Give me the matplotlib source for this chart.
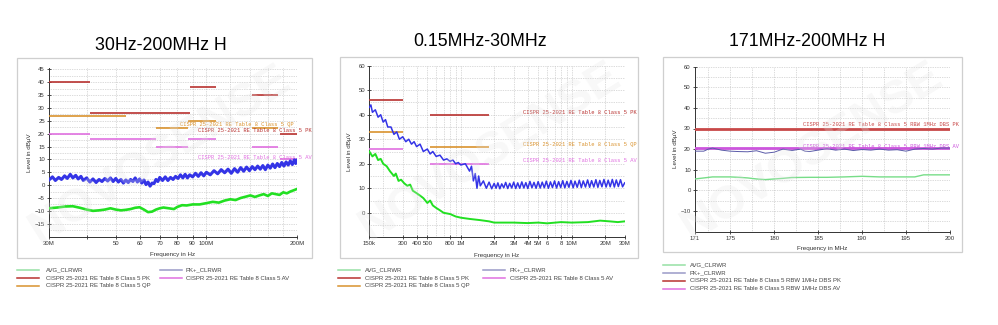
import matplotlib
matplotlib.use("Agg")
import matplotlib.pyplot as plt
from matplotlib.lines import Line2D
from matplotlib.patches import Rectangle

plt.rcParams['font.family'] = ['Liberation Sans', 'DejaVu Sans']

W, H = 998, 325

# ---- panel 1: 30 MHz - 200 MHz (MHz) ----
F1_PK = [30, 30.8, 31.5, 32.3, 33, 33.8, 34.5, 35.3, 36, 36.8, 37.5, 38.3, 39, 40, 41, 42, 43, 44,
         45, 46, 47, 48, 49, 50, 51, 52, 53, 54, 55, 56, 57, 58, 59, 60, 61, 62, 63, 64, 65, 66,
         67, 68, 69, 70, 71.5, 73, 74.5, 76, 77.5, 79, 80.5, 82, 83.5, 85, 86.5, 88, 90, 92, 94,
         96, 98, 100, 103, 106, 109, 112, 115, 118, 121, 124, 127, 130, 133, 136, 139, 142, 145,
         148, 151, 154, 157, 160, 163, 166, 169, 172, 175, 178, 181, 184, 187, 190, 193, 196, 198, 200]
L1_PK = [2.0, 3.2, 1.8, 3.0, 2.2, 3.6, 2.6, 4.2, 2.8, 3.8, 2.4, 3.4, 1.8, 2.8, 1.2, 2.4, 1.0, 2.2,
         1.4, 2.6, 1.6, 2.8, 1.4, 2.6, 1.2, 2.2, 0.8, 2.0, 1.0, 2.2, 1.4, 2.8, 1.2, 2.4, 0.8, 2.0,
         0.2, 1.2, -0.4, 0.8, 0.6, 2.2, 1.4, 3.0, 1.8, 3.2, 1.8, 3.0, 2.2, 3.4, 2.6, 4.0, 2.8, 4.2,
         2.8, 4.0, 3.2, 4.6, 3.4, 4.8, 3.6, 5.0, 4.0, 5.6, 4.4, 6.0, 4.8, 6.2, 4.6, 6.4, 5.0, 6.8,
         5.4, 7.0, 5.6, 7.2, 6.0, 7.4, 6.2, 7.6, 6.0, 7.8, 6.6, 8.2, 6.8, 8.4, 7.2, 8.8, 7.4, 9.0,
         7.8, 9.4, 8.0, 9.8, 8.4, 9.6]
F1_AV = [30, 32, 34, 36, 38, 40, 42, 44, 46, 48, 50, 52, 54, 56, 58, 60, 62, 64, 66, 68, 70, 72,
         75, 78, 80, 83, 86, 90, 95, 100, 105, 110, 115, 120, 125, 130, 135, 140, 145, 150, 155,
         160, 165, 170, 175, 180, 185, 190, 195, 200]
L1_AV = [-9.0, -8.7, -8.3, -8.2, -8.8, -9.5, -10.0, -9.8, -9.5, -9.0, -9.5, -9.8, -9.6, -9.3, -8.8,
         -8.6, -9.5, -10.5, -10.3, -9.5, -9.0, -8.7, -9.0, -9.3, -8.5, -7.8, -7.9, -7.5, -7.5, -7.0,
         -6.5, -6.8, -6.0, -5.5, -5.8, -5.0, -4.5, -4.0, -4.6, -4.0, -3.5, -4.2, -3.2, -3.5, -3.8,
         -2.8, -3.2, -2.5, -2.0, -1.5]
LIM1_PK_START = [30, 41, 88, 142, 176]
LIM1_PK_STOP = [41, 88, 108, 173, 200]
LIM1_PK_LEVEL = [40, 28, 38, 35, 20]
LIM1_QP_START = [30, 68, 87, 142]
LIM1_QP_STOP = [54, 87, 108, 173]
LIM1_QP_LEVEL = [27, 22, 25, 22]
LIM1_AV_START = [30, 41, 68, 87, 142, 176]
LIM1_AV_STOP = [41, 68, 87, 108, 173, 200]
LIM1_AV_LEVEL = [20, 18, 15, 18, 15, 10]
X1_TICKS = [30, 40, 50, 60, 70, 80, 90, 100, 200]
X1_LABELS = ['30M', '', '50', '60', '70', '80', '90', '100M', '200M']
X1_GRID = [40, 50, 60, 70, 80, 90, 100, 120, 140, 160, 180, 200]

# ---- panel 2: 150 kHz - 30 MHz (kHz) ----
F2_PK = [150, 155, 160, 170, 180, 190, 200, 210, 220, 235, 250, 265, 280, 300, 320, 340, 360, 380,
         400, 430, 460, 500, 530, 560, 600, 650, 700, 750, 800, 850, 900, 950, 1000, 1100, 1200,
         1250, 1300, 1350, 1400, 1450, 1500, 1600, 1700, 1800,
         1900, 2000, 2080, 2160, 2250, 2340, 2440, 2540, 2650, 2760,
         2880, 3000, 3130, 3260, 3400, 3550, 3700, 3860, 4020, 4200,
         4380, 4570, 4770, 4980, 5200, 5420, 5660, 5900, 6160, 6430,
         6700, 7000, 7300, 7620, 7950, 8300, 8660, 9040, 9430, 9840,
         10300, 10700, 11200, 11700, 12200, 12700, 13300, 13900, 14500, 15100,
         15800, 16500, 17200, 17900, 18700, 19500, 20400, 21300, 22200, 23200,
         24200, 25200, 26300, 27500, 28700, 30000]
L2_PK = [43, 44, 41, 42, 39, 40, 37, 38, 35, 35, 32, 33, 30, 31, 29, 30, 28, 29,
         27, 28, 25, 26, 24, 25, 23, 23.5, 21.5, 22, 21, 21.5, 20, 20.5, 19.5, 20, 17,
         19, 13, 16, 10, 15, 11, 13, 10, 12.5,
         9.8, 12.0, 10.0, 12.2, 9.8, 11.8, 10.2, 12.4, 9.9, 12.0,
         10.1, 12.5, 9.9, 12.2, 10.0, 12.6, 10.1, 12.3, 9.9, 12.8,
         10.2, 12.4, 10.0, 12.7, 10.1, 12.5, 10.2, 12.9, 10.0, 12.6,
         10.3, 13.0, 10.1, 12.7, 10.3, 13.1, 10.2, 12.8, 10.4, 13.2,
         10.2, 12.9, 10.4, 13.3, 10.3, 13.0, 10.5, 13.4, 10.4, 13.1,
         10.5, 13.5, 10.4, 13.2, 10.6, 13.6, 10.5, 13.3, 10.6, 13.6,
         10.5, 13.4, 10.7, 13.5, 10.6, 12.2]
F2_AV = [150, 160, 170, 180, 190, 200, 215, 230, 250, 260, 275, 290, 310, 330, 350, 370, 400, 430,
         460, 500, 530, 560, 600, 650, 700, 800, 900, 1000, 1200, 1500, 1800, 2000, 2500, 3000,
         4000, 5000, 6000, 8000, 10000, 14000, 18000, 22000, 26000, 30000]
L2_AV = [25, 23, 24, 21.5, 22, 20, 19, 17, 15, 16, 13, 13.5, 12, 11, 11.5, 9, 8, 7,
         6, 4, 5, 3, 2, 1, 0, -0.5, -1.5, -2, -2.5, -3, -3.5, -4, -4, -4,
         -4.2, -4, -4.3, -3.8, -4, -3.8, -3.2, -3.5, -3.8, -3.5]
LIM2_START = [150, 530]
LIM2_STOP = [300, 1800]
LIM2_PK = [46, 40]
LIM2_QP = [33, 27]
LIM2_AV = [26, 20]
X2_TICKS = [150, 300, 400, 500, 800, 1000, 2000, 3000, 4000, 5000, 6000, 8000, 10000, 20000, 30000]
X2_LABELS = ['150k', '300', '400', '500', '800', '1M', '2M', '3M', '4M', '5M', '6', '8', '10M',
             '20M', '30M']
X2_GRID = [200, 300, 400, 500, 600, 700, 800, 900, 1000, 2000, 3000, 4000, 5000, 6000, 7000,
           8000, 9000, 10000, 20000, 30000]

# ---- panel 3: 171 MHz - 200 MHz (MHz) ----
F3_PK = [171, 172, 172.5, 173, 174, 175, 176, 177, 178, 179, 180, 181, 182, 183, 183.5, 184, 185,
         186, 187, 188, 189, 190, 191, 192, 193, 194, 195, 196, 197, 198, 199, 200]
L3_PK = [19, 19, 20, 20.5, 19.5, 19, 18.8, 18.7, 19.2, 18, 18.5, 20, 19.3, 20, 19, 18.8, 19.5,
         20.2, 19.5, 20, 19.3, 19.8, 19.5, 20, 19.5, 19.7, 19, 20, 20.3, 20, 20.5, 20.5]
F3_AV = [171, 172, 173, 175, 176, 177, 178, 179, 180, 181, 182, 184, 186, 188, 190, 192, 194,
         196, 197, 198, 200]
L3_AV = [5.5, 6, 6.5, 6.5, 6.3, 6, 5.5, 5.2, 5.5, 5.8, 6.2, 6.3, 6.3, 6.5, 6.8, 6.5, 6.5, 6.5,
         7.5, 7.5, 7.5]
LIM3_PK = 30
LIM3_AV = 20.3
X3_TICKS = [171, 175, 180, 185, 190, 195, 200]
X3_GRID = [172.5, 175, 177.5, 180, 182.5, 185, 187.5, 190, 192.5, 195, 197.5, 200]

C_RED, C_ORG, C_MAG = '#b8312f', '#d9922e', '#e070e0'
C_BLUE, C_GREEN = '#3434e6', '#22e022'
LEG_GREEN, LEG_PURPLE = '#96e0a4', '#9a9ac8'

LBL_PK = 'CISPR 25-2021 RE Table 8 Class 5 PK'
LBL_QP = 'CISPR 25-2021 RE Table 8 Class 5 QP'
LBL_AV = 'CISPR 25-2021 RE Table 8 Class 5 AV'
LBL3_PK = 'CISPR 25-2021 RE Table 8 Class 5 RBW 1MHz DBS PK'
LBL3_AV = 'CISPR 25-2021 RE Table 8 Class 5 RBW 1MHz DBS AV'

fig = plt.figure(figsize=(W / 100, H / 100), dpi=100)


def ax_px(l, t, r, b):
    return fig.add_axes([l / W, 1 - b / H, (r - l) / W, (b - t) / H])


def frame_px(l, t, r, b):
    fig.add_artist(Rectangle((l / W, 1 - b / H), (r - l) / W, (b - t) / H,
                             transform=fig.transFigure, fill=False, ec='#cfcfcf', lw=0.9))


def style(ax, xgrid, ygrid, xlabel):
    for s in ['top', 'right']:
        ax.spines[s].set_visible(False)
    for s in ['left', 'bottom']:
        ax.spines[s].set_color('#333333')
        ax.spines[s].set_linewidth(0.7)
    for x in xgrid:
        ax.axvline(x, color='#b8b8b8', lw=0.5, ls=(0, (1, 1.5)), zorder=0)
    for y in ygrid:
        ax.axhline(y, color='#b8b8b8', lw=0.5, ls=(0, (1, 1.5)), zorder=0)
    ax.tick_params(direction='inout', length=3, width=0.6, labelsize=4.3,
                   colors='#333333', pad=1.5)
    ax.tick_params(which='minor', length=0)
    ax.set_ylabel('Level in dBµV', fontsize=4.5, color='#333333')
    ax.yaxis.set_label_coords(-0.068, 0.5)
    ax.set_xlabel(xlabel, fontsize=4.5, color='#333333')
    ax.xaxis.set_label_coords(0.5, -0.09)


def legend_px(x_line, x_text, y, color, text):
    fig.add_artist(Line2D([x_line / W, (x_line + 22) / W], [1 - y / H, 1 - y / H],
                          color=color, lw=1.1, transform=fig.transFigure))
    fig.text(x_text / W, 1 - y / H, text, fontsize=4.3, color='#444444', va='center')


def watermark(cx, cy):
    fig.text(cx / W, 1 - cy / H, 'NOVOSENSE', fontsize=34, fontweight='bold', color='#e4e4e4',
             alpha=0.26, rotation=32, ha='center', va='center', zorder=10)


MONO = dict(family='Liberation Mono', fontsize=3.9, clip_on=False)

# panel 1
frame_px(17, 58, 312, 258)
ax1 = ax_px(49, 68, 297, 236.6)
ax1.set_xscale('log')
ax1.set_xlim(30, 200)
ax1.set_ylim(-20, 45.5)
style(ax1, X1_GRID, [-17.5 + 2.5 * i for i in range(26)], 'Frequency in Hz')
ax1.set_xticks(X1_TICKS)
ax1.set_xticklabels(X1_LABELS)
ax1.set_yticks(list(range(-15, 46, 5)))
ax1.hlines(LIM1_PK_LEVEL, LIM1_PK_START, LIM1_PK_STOP, colors=C_RED, lw=1.2, zorder=3)
ax1.hlines(LIM1_QP_LEVEL, LIM1_QP_START, LIM1_QP_STOP, colors=C_ORG, lw=1.2, zorder=3)
ax1.hlines(LIM1_AV_LEVEL, LIM1_AV_START, LIM1_AV_STOP, colors=C_MAG, lw=1.2, zorder=3)
ax1.plot(F1_AV, L1_AV, color=C_GREEN, lw=1.9, zorder=4)
ax1.plot(F1_PK, L1_PK, color=C_BLUE, lw=2.2, zorder=4)
ax1.text(81.6, 23.7, LBL_QP, color=C_ORG, va='center', **MONO)
ax1.text(93.7, 21.4, LBL_PK, color=C_RED, va='center', **MONO)
ax1.text(93.7, 10.9, LBL_AV, color=C_MAG, va='center', **MONO)
fig.text(161 / W, 1 - 45 / H, '30Hz-200MHz H', fontsize=12.8, ha='center', va='center')
legend_px(17, 46, 270, LEG_GREEN, 'AVG_CLRWR')
legend_px(17, 46, 278, C_RED, LBL_PK)
legend_px(17, 46, 286, C_ORG, LBL_QP)
legend_px(160, 186, 270, LEG_PURPLE, 'PK+_CLRWR')
legend_px(160, 186, 278, C_MAG, LBL_AV)
watermark(160, 155)

# panel 2
frame_px(340, 56.5, 638, 258)
ax2 = ax_px(369.3, 65.7, 624.7, 237.3)
ax2.set_xscale('log')
ax2.set_xlim(150, 30000)
ax2.set_ylim(-10, 60)
style(ax2, X2_GRID, [-5 + 5 * i for i in range(14)], 'Frequency in Hz')
ax2.set_xticks(X2_TICKS)
ax2.set_xticklabels(X2_LABELS)
ax2.set_yticks(list(range(0, 61, 10)))
ax2.hlines(LIM2_PK, LIM2_START, LIM2_STOP, colors=C_RED, lw=1.2, zorder=3)
ax2.hlines(LIM2_QP, LIM2_START, LIM2_STOP, colors=C_ORG, lw=1.2, zorder=3)
ax2.hlines(LIM2_AV, LIM2_START, LIM2_STOP, colors=C_MAG, lw=1.2, zorder=3)
ax2.plot(F2_AV, L2_AV, color=C_GREEN, lw=1.4, zorder=4)
ax2.plot(F2_PK, L2_PK, color=C_BLUE, lw=1.1, zorder=4)
ax2.text(3640, 41, LBL_PK, color=C_RED, va='center', **MONO)
ax2.text(3640, 27.9, LBL_QP, color=C_ORG, va='center', **MONO)
ax2.text(3640, 21.4, LBL_AV, color=C_MAG, va='center', **MONO)
fig.text(480 / W, 1 - 41.5 / H, '0.15MHz-30MHz', fontsize=12.8, ha='center', va='center')
legend_px(338, 365, 270, LEG_GREEN, 'AVG_CLRWR')
legend_px(338, 365, 278, C_RED, LBL_PK)
legend_px(338, 365, 286, C_ORG, LBL_QP)
legend_px(483, 510, 270, LEG_PURPLE, 'PK+_CLRWR')
legend_px(483, 510, 278, C_MAG, LBL_AV)
watermark(490, 152)

# panel 3
frame_px(663, 57, 962, 252)
ax3 = ax_px(695, 66.7, 950, 231.5)
ax3.set_xlim(171, 200)
ax3.set_ylim(-20, 60)
style(ax3, X3_GRID, [-15 + 5 * i for i in range(16)], 'Frequency in MHz')
ax3.set_xticks(X3_TICKS)
ax3.set_yticks(list(range(-10, 61, 10)))
ax3.axhline(LIM3_PK, color='#c84848', lw=2.0, zorder=3)
ax3.axhline(LIM3_AV, color='#cc55dd', lw=2.0, zorder=3)
ax3.plot(F3_AV, L3_AV, color='#77dd88', lw=1.0, zorder=4)
ax3.plot(F3_PK, L3_PK, color='#5a5aa8', lw=0.7, zorder=4)
ax3.text(183.3, 31.7, LBL3_PK, color='#c84848', va='center', **MONO)
ax3.text(183.3, 21.5, LBL3_AV, color='#cc55dd', va='center', **MONO)
fig.text(807 / W, 1 - 41.5 / H, '171MHz-200MHz H', fontsize=12.8, ha='center', va='center')
legend_px(663, 690, 265, LEG_GREEN, 'AVG_CLRWR')
legend_px(663, 690, 272.5, LEG_PURPLE, 'PK+_CLRWR')
legend_px(663, 690, 280.5, C_RED, LBL3_PK)
legend_px(663, 690, 288.5, C_MAG, LBL3_AV)
watermark(812, 152)

fig.savefig('out.png', dpi=100)
